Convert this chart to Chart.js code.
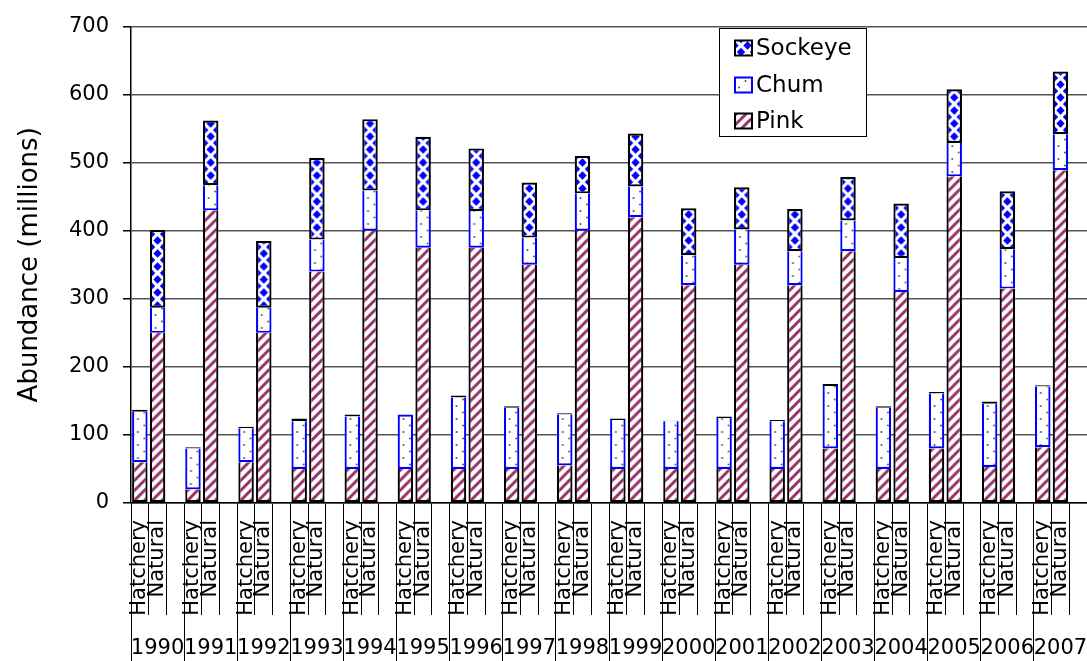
<!DOCTYPE html>
<html>
<head>
<meta charset="utf-8">
<title>Salmon abundance, hatchery vs natural</title>
<script src="https://cdn.jsdelivr.net/npm/chart.js@4/dist/chart.umd.min.js"></script>
<style>
  html, body { margin: 0; padding: 0; background: #fff; }
  canvas { display: block; }
</style>
</head>
<body>
<canvas id="chart" width="1087" height="661"></canvas>
<script>
// Run years and the two origins shown for each year
const years = [1990, 1991, 1992, 1993, 1994, 1995, 1996, 1997, 1998, 1999,
               2000, 2001, 2002, 2003, 2004, 2005, 2006, 2007];
const origins = ['Hatchery', 'Natural'];

// Abundance in millions, one value per year
const pinkHatchery    = [60, 20, 60, 50, 50, 50, 50, 50, 55, 50, 50, 50, 50, 80, 50, 80, 53, 82];
const chumHatchery    = [74, 60, 50, 70, 77, 80, 105, 90, 75, 72, 70, 75, 70, 92, 90, 81, 93, 89];
const sockeyeHatchery = [3, 2, 2, 4, 3, 0, 3, 2, 2, 2, 1, 2, 2, 3, 2, 2, 3, 2];

const pinkNatural    = [250, 430, 250, 340, 400, 375, 375, 350, 400, 420, 320, 350, 320, 370, 310, 480, 315, 489];
const chumNatural    = [37, 37, 37, 47, 59, 55, 54, 40, 55, 45, 44, 52, 50, 45, 50, 49, 58, 53];
const sockeyeNatural = [114, 95, 98, 120, 105, 108, 92, 81, 55, 78, 69, 62, 62, 64, 80, 79, 85, 92];

const yAxisMax = 700;
const yAxisStep = 100;

// Each year takes three category slots: Hatchery, Natural and an empty spacer
const slotLabels = [], yearLabels = [];
const pinkSlots = [], chumSlots = [], sockeyeSlots = [];
years.forEach((yr, i) => {
  slotLabels.push(origins[0], origins[1], '');
  yearLabels.push('', String(yr), '');
  pinkSlots.push(pinkHatchery[i], pinkNatural[i], null);
  chumSlots.push(chumHatchery[i], chumNatural[i], null);
  sockeyeSlots.push(sockeyeHatchery[i], sockeyeNatural[i], null);
});

Chart.defaults.font.family = "'DejaVu Sans', sans-serif";
Chart.defaults.color = '#000';

// Fill tiles for the three species
function makeTile(size, paint) {
  const c = document.createElement('canvas');
  c.width = size; c.height = size;
  const g = c.getContext('2d');
  g.fillStyle = '#fff';
  g.fillRect(0, 0, size, size);
  paint(g, size);
  return c;
}
const stripeTile = makeTile(10, (g, s) => {
  g.strokeStyle = '#993366';
  g.lineWidth = 3;
  g.beginPath();
  for (let k = -1; k <= 1; k++) {
    g.moveTo(k * s - 1, s + 1);
    g.lineTo(k * s + s + 1, -1);
  }
  g.stroke();
});
const dotTile = makeTile(13, (g, s) => {
  const h = s / 2;
  g.fillStyle = '#333';
  g.fillRect(h - 2.8, 2.2, 1.6, 1.6);
  g.fillRect(h + 3.7, 8.7, 1.6, 1.6);
});
const diamondTile = makeTile(13, (g, s) => {
  const h = s / 2, r = 4.2;
  g.fillStyle = '#0000ff';
  [[h, h], [0, 0], [s, 0], [0, s], [s, s]].forEach(([x, y]) => {
    g.beginPath();
    g.moveTo(x, y - r); g.lineTo(x + r, y); g.lineTo(x, y + r); g.lineTo(x - r, y);
    g.closePath();
    g.fill();
  });
});

const scratch = document.createElement('canvas').getContext('2d');
function plainPattern(tileCanvas) {
  return scratch.createPattern(tileCanvas, 'repeat');
}
// Pattern whose tile is centred on the bar it fills
function barPattern(tileCanvas) {
  return (ctx) => {
    const p = scratch.createPattern(tileCanvas, 'repeat');
    const sc = ctx.chart.scales && ctx.chart.scales.x;
    if (sc && ctx.dataIndex !== undefined) {
      const cx = sc.getPixelForValue(ctx.dataIndex);
      p.setTransform(new DOMMatrix([1, 0, 0, 1, cx - tileCanvas.width / 2, 0]));
    }
    return p;
  };
}

// Boxed legend in the upper right of the plot
const legendBox = {
  id: 'legendBox',
  afterDraw(chart) {
    const { ctx } = chart;
    const box = { left: 719.5, top: 28.5, width: 147, height: 108 };
    const rows = [
      { label: 'Sockeye', tile: diamondTile, border: '#000', y: 48 },
      { label: 'Chum', tile: dotTile, border: '#0000ff', y: 85 },
      { label: 'Pink', tile: stripeTile, border: '#000', y: 121 }
    ];
    ctx.save();
    ctx.fillStyle = '#fff';
    ctx.fillRect(box.left, box.top, box.width, box.height);
    ctx.strokeStyle = '#000';
    ctx.lineWidth = 1;
    ctx.strokeRect(box.left, box.top, box.width, box.height);
    rows.forEach(r => {
      const sw = { x: 735, y: r.y - 7.5, w: 17, h: 15 };
      ctx.fillStyle = plainPattern(r.tile);
      ctx.fillRect(sw.x, sw.y, sw.w, sw.h);
      ctx.strokeStyle = r.border;
      ctx.lineWidth = 2;
      ctx.strokeRect(sw.x, sw.y, sw.w, sw.h);
      ctx.fillStyle = '#000';
      ctx.font = "23px 'DejaVu Sans', sans-serif";
      ctx.textBaseline = 'middle';
      ctx.textAlign = 'left';
      ctx.fillText(r.label, 756, r.y + 1);
    });
    ctx.restore();
  }
};

new Chart(document.getElementById('chart'), {
  type: 'bar',
  data: {
    labels: slotLabels,
    datasets: [
      {
        label: 'Pink',
        data: pinkSlots,
        backgroundColor: barPattern(stripeTile),
        borderColor: '#000',
        borderWidth: { top: 0, left: 2.2, right: 2.2, bottom: 2.2 },
        borderSkipped: false
      },
      {
        label: 'Chum',
        data: chumSlots,
        backgroundColor: barPattern(dotTile),
        borderColor: '#0000ff',
        borderWidth: (ctx) => ({
          top: sockeyeSlots[ctx.dataIndex] > 0 ? 0 : 2.2,
          left: 2.2, right: 2.2, bottom: 2.2
        }),
        borderSkipped: false
      },
      {
        label: 'Sockeye',
        data: sockeyeSlots,
        backgroundColor: barPattern(diamondTile),
        borderColor: '#000',
        borderWidth: 2.2,
        borderSkipped: false
      }
    ]
  },
  options: {
    responsive: false,
    animation: false,
    devicePixelRatio: 1,
    layout: { padding: { top: 18, right: 0, bottom: 0, left: 0 } },
    datasets: { bar: { barPercentage: 0.875, categoryPercentage: 1 } },
    plugins: { legend: { display: false }, tooltip: { enabled: false } },
    scales: {
      x: {
        stacked: true,
        offset: true,
        weight: 0,
        grid: { offset: true, drawOnChartArea: false, drawTicks: true, tickLength: 112, color: '#000', lineWidth: 1 },
        border: { display: true, color: '#000', width: 1.5 },
        ticks: { autoSkip: false, minRotation: 90, maxRotation: 90, padding: -95, font: { size: 21 }, color: '#000' },
        afterFit: (s) => { s.height = 112; }
      },
      years: {
        type: 'category',
        labels: yearLabels,
        position: 'bottom',
        offset: true,
        weight: 1,
        grid: {
          offset: true, drawOnChartArea: false, drawTicks: true, tickLength: 46, lineWidth: 1,
          color: (c) => (c.index !== undefined && c.index % 3 === 0) ? '#000' : 'rgba(0,0,0,0)'
        },
        border: { display: false },
        ticks: { autoSkip: false, minRotation: 0, maxRotation: 0, padding: -25, font: { size: 21 }, color: '#000' },
        afterFit: (s) => { s.height = 46; }
      },
      y: {
        stacked: true,
        min: 0,
        max: yAxisMax,
        ticks: { stepSize: yAxisStep, padding: 14, font: { size: 21 }, color: '#000' },
        grid: { color: '#555', lineWidth: 1.5, tickLength: 8, tickColor: '#000' },
        border: { color: '#000', width: 1.5 },
        title: { display: true, text: 'Abundance (millions)', font: { size: 26 }, color: '#000', padding: { top: 15, bottom: 0 } },
        afterFit: (s) => { s.width = 131; }
      }
    }
  },
  plugins: [legendBox]
});
</script>
</body>
</html>
